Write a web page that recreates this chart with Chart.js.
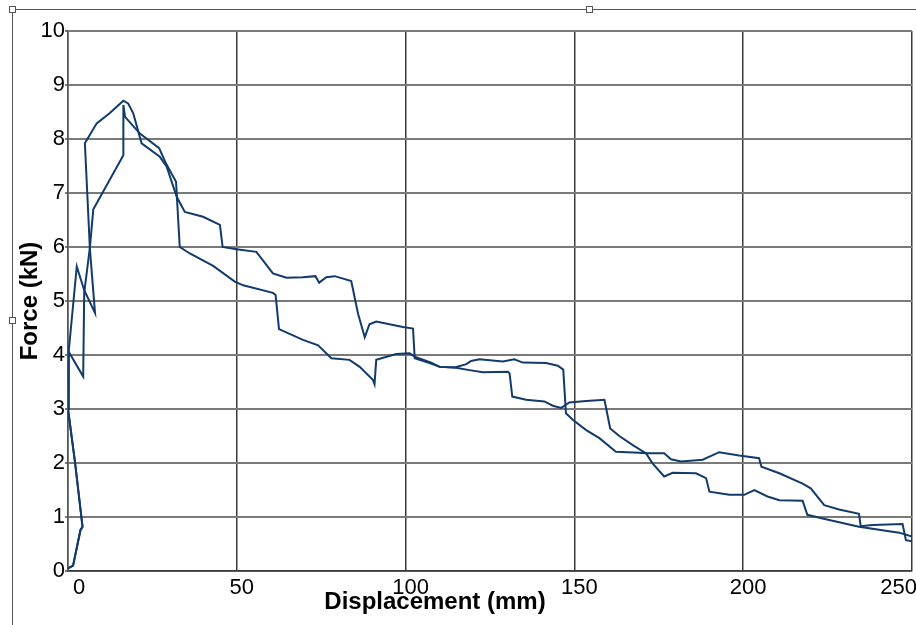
<!DOCTYPE html>
<html>
<head>
<meta charset="utf-8">
<script src="https://cdn.jsdelivr.net/npm/chart.js@4.4.1/dist/chart.umd.min.js"></script>
<style>
    html, body { margin: 0; padding: 0; background: #fff; overflow: hidden; }
    #wrap { position: relative; width: 916px; height: 625px; }
    #chart { position: absolute; left: 0; top: 0; }
    .frame { position: absolute; background: #555; }
    .handle { position: absolute; width: 5px; height: 5px; background: #fff; border: 1px solid #555; }
    #xTitle {
        position: absolute; left: 235px; width: 400px; top: 589px;
        text-align: center; font: bold 24px "Liberation Sans", Arial, sans-serif; line-height: 24px; color: #000;
    }
</style>
</head>
<body>
<div id="wrap">
    <canvas id="chart" width="916" height="625"></canvas>
    <!-- selection frame around the pasted chart -->
    <div class="frame" style="left:12px;top:9px;width:904px;height:1px;"></div>
    <div class="frame" style="left:12px;top:9px;width:1px;height:616px;"></div>
    <div class="handle" style="left:9px;top:6px;"></div>
    <div class="handle" style="left:586px;top:6px;"></div>
    <div class="handle" style="left:9px;top:317px;"></div>
    <div id="xTitle">Displacement (mm)</div>
</div>
<script>
// test 1 (upper curve in the middle range)
const dispA = [0, 1.5, 3.7, 4.3, 2.1, 0, 0.2, 2.6, 4.8, 8, 6.5, 5, 8.5, 12.4, 16.4, 17.8, 19.3, 21.8, 27.2, 29.2,
    32.2, 34.6, 40, 45, 45.8, 49.9, 55.8, 60.7, 64.7, 69.6, 73.3, 74.4, 76.5, 79, 83.9, 85.9, 87.9, 89.3, 91.3, 99.2,
    102.2, 102.7, 107.1, 110.1, 114.5, 118, 119.4, 121.9, 128.8, 132.2, 134.7, 141.6, 145.1, 146.7, 147.5, 149.5, 153.5, 157.4, 162.3,
    169.2, 171.2, 173.2, 176.6, 179.1, 186, 189, 190, 195.9, 200.3, 203.3, 207.2, 210.7, 217.6, 219, 224.5, 234.3, 246.2, 250];
const forceA = [0.05, 0.1, 0.76, 0.82, 2.0, 3.0, 4.06, 5.64, 5.2, 4.78, 5.95, 7.92, 8.29, 8.48, 8.71, 8.66, 8.48, 7.92, 7.67, 7.49,
    6.93, 6.65, 6.56, 6.41, 6.0, 5.96, 5.91, 5.51, 5.43, 5.44, 5.46, 5.34, 5.44, 5.46, 5.37, 4.77, 4.33, 4.57, 4.62, 4.52,
    4.49, 3.94, 3.85, 3.78, 3.77, 3.83, 3.89, 3.92, 3.88, 3.92, 3.86, 3.85, 3.8, 3.73, 2.92, 2.8, 2.61, 2.46, 2.21,
    2.19, 2.18, 1.99, 1.75, 1.82, 1.81, 1.72, 1.47, 1.41, 1.41, 1.5, 1.38, 1.31, 1.3, 1.04, 0.96, 0.82, 0.71, 0.64];

// test 2
const dispB = [0, 1.5, 3.7, 4.3, 2.1, 0, 0.2, 4.5, 4.8, 6.5, 7.5, 16.4, 16.4, 16.9, 21.3, 27, 29, 32, 33.1, 36.1,
    43, 49.4, 51.9, 60.7, 61.5, 62.5, 69.6, 74.1, 78, 83.4, 86.4, 90.3, 90.8, 91.3, 97.2, 101.2, 102.7, 107.6, 110.1, 114.5,
    118.9, 122.9, 130.3, 130.8, 131.6, 135.7, 141.1, 143.6, 146.1, 148.5, 153.5, 158.9, 160.6, 163.3, 167.3, 171.2, 176.6, 178.6, 181.6,
    188, 192.9, 198.8, 204.7, 205.4, 210.7, 217.6, 220, 224, 228.4, 234.3, 234.8, 238.3, 247.2, 248.2, 250];
const forceB = [0.05, 0.1, 0.76, 0.82, 2.0, 3.0, 4.06, 3.6, 5.15, 6.0, 6.7, 7.7, 8.63, 8.41, 8.1, 7.83, 7.55, 7.21, 6.0, 5.88,
    5.65, 5.36, 5.29, 5.15, 5.11, 4.48, 4.28, 4.18, 3.94, 3.91, 3.78, 3.54, 3.46, 3.91, 4.02, 4.03, 3.97, 3.86, 3.78, 3.77,
    3.72, 3.68, 3.69, 3.66, 3.23, 3.17, 3.14, 3.06, 3.02, 3.12, 3.15, 3.17, 2.64, 2.5, 2.33, 2.18, 2.18, 2.07, 2.03,
    2.06, 2.2, 2.14, 2.09, 1.93, 1.81, 1.62, 1.53, 1.22, 1.14, 1.06, 0.83, 0.85, 0.87, 0.57, 0.55];

const xTicks = [0, 50, 100, 150, 200, 250];
const yTicks = [0, 1, 2, 3, 4, 5, 6, 7, 8, 9, 10];

const lineColor = '#123a6b';
const toPoints = (xs, ys) => xs.map((x, i) => ({ x: x, y: ys[i] }));
const tickFont = { family: '"Liberation Sans", Arial, sans-serif', size: 22 };

new Chart(document.getElementById('chart'), {
    type: 'scatter',
    data: {
        datasets: [
            { data: toPoints(dispA, forceA), showLine: true, borderColor: lineColor, borderWidth: 2, pointRadius: 0, tension: 0 },
            { data: toPoints(dispB, forceB), showLine: true, borderColor: lineColor, borderWidth: 2, pointRadius: 0, tension: 0 }
        ]
    },
    options: {
        responsive: false,
        animation: false,
        devicePixelRatio: 1,
        layout: { padding: { left: 0, top: 31, right: 3, bottom: 0 } },
        plugins: { legend: { display: false }, tooltip: { enabled: false } },
        scales: {
            x: {
                type: 'linear',
                min: xTicks[0],
                max: xTicks[xTicks.length - 1],
                afterBuildTicks: s => { s.ticks = xTicks.map(v => ({ value: v })); },
                afterFit: s => { s.height = 54; },
                grid: { color: '#3a3a3a', lineWidth: 1.5, drawTicks: false },
                border: { color: '#3a3a3a', width: 1.5 },
                ticks: { color: '#000', font: tickFont, padding: 4, align: 'inner', labelOffset: 5, maxRotation: 0 }
            },
            y: {
                type: 'linear',
                min: yTicks[0],
                max: yTicks[yTicks.length - 1],
                afterBuildTicks: s => { s.ticks = yTicks.map(v => ({ value: v })); },
                afterFit: s => { s.width = 68; },
                grid: { color: '#7a7a7a', lineWidth: 2, tickLength: 3, tickColor: '#7a7a7a' },
                border: { color: '#555', width: 1.5 },
                ticks: { color: '#000', font: tickFont, padding: 0 },
                title: {
                    display: true,
                    text: 'Force (kN)',
                    color: '#000',
                    font: { family: '"Liberation Sans", Arial, sans-serif', size: 24, weight: 'bold' },
                    padding: { top: 16, bottom: 0 }
                }
            }
        }
    }
});
</script>
</body>
</html>
